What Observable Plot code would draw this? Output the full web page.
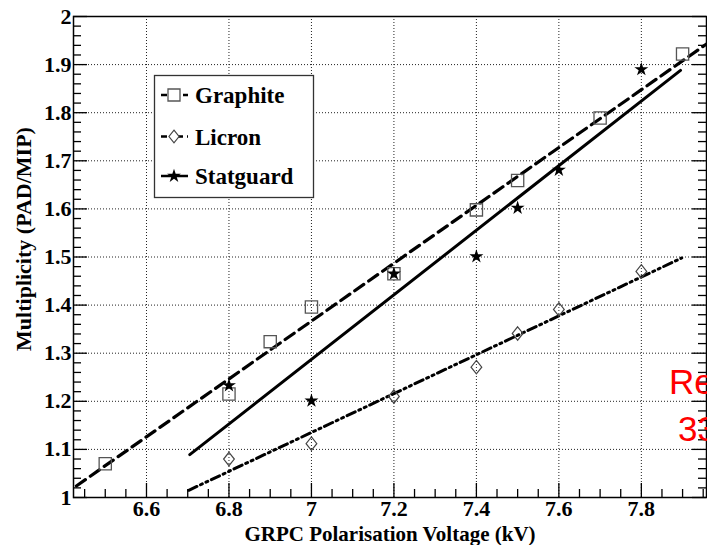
<!DOCTYPE html>
<html><head><meta charset="utf-8">
<script src="https://cdn.jsdelivr.net/npm/d3@7"></script>
<script src="https://cdn.jsdelivr.net/npm/@observablehq/plot@0.6"></script>
<style>
body{margin:0;background:#fff;overflow:hidden}
#wrap{position:relative;width:707px;height:545px;overflow:hidden;background:#fff}
#wrap svg{position:absolute;left:0;top:0}
.red{position:absolute;font-family:"Liberation Sans",Arial,sans-serif;font-size:35px;color:#ff0000;line-height:1;white-space:nowrap}
</style></head><body><div id="wrap"></div>
<script>
// ---- data ----
const graphiteX = [6.5, 6.8, 6.9, 7.0, 7.2, 7.4, 7.5, 7.7, 7.9];
const graphiteY = [1.070, 1.215, 1.324, 1.396, 1.465, 1.598, 1.659, 1.789, 1.922];
const licronX = [6.8, 7.0, 7.2, 7.4, 7.5, 7.6, 7.8];
const licronY = [1.080, 1.112, 1.210, 1.271, 1.341, 1.391, 1.470];
const statguardX = [6.8, 7.0, 7.2, 7.4, 7.5, 7.6, 7.8];
const statguardY = [1.233, 1.201, 1.465, 1.501, 1.602, 1.681, 1.890];
// linear fit lines (end points)
const graphiteFitX = [6.43, 7.96];
const graphiteFitY = [1.024, 1.944];
const statguardFitX = [6.705, 7.895];
const statguardFitY = [1.089, 1.888];
const licronFitX = [6.7025, 7.898];
const licronFitY = [1.015, 1.498];
// axes
const xDomain = [6.423, 7.958];
const yDomain = [1, 2];
const xTicks = [6.6, 6.8, 7.0, 7.2, 7.4, 7.6, 7.8];
const yTicks = [1.0, 1.1, 1.2, 1.3, 1.4, 1.5, 1.6, 1.7, 1.8, 1.9, 2.0];
const xMinorTicks = [6.45, 6.5, 6.55, 6.65, 6.7, 6.75, 6.85, 6.9, 6.95, 7.05, 7.1, 7.15, 7.25, 7.3, 7.35, 7.45, 7.5, 7.55, 7.65, 7.7, 7.75, 7.85, 7.9, 7.95];
const yMinorTicks = [1.02,1.04,1.06,1.08,1.12,1.14,1.16,1.18,1.22,1.24,1.26,1.28,1.32,1.34,1.36,1.38,1.42,1.44,1.46,1.48,1.52,1.54,1.56,1.58,1.62,1.64,1.66,1.68,1.72,1.74,1.76,1.78,1.82,1.84,1.86,1.88,1.92,1.94,1.96,1.98];
const seriesNames = ["Graphite", "Licron", "Statguard"];
const xTitle = "GRPC Polarisation Voltage (kV)";
const yTitle = "Multiplicity (PAD/MIP)";

const W = 707, H = 545, mL = 73, mR = 1, mT = 16, mB = 48;
const pxX = (W - mL - mR) / (xDomain[1] - xDomain[0]);
const pxY = (H - mT - mB) / (yDomain[1] - yDomain[0]);
const majLen = 14, minLen = 8;

const pts = (xs, ys) => xs.map((x, i) => ({x, y: ys[i]}));
const fmt = d => String(+(+d).toFixed(2));

const diamond = {draw(ctx, size) {
  const r = Math.sqrt(size / Math.PI), w = r * 0.8;
  ctx.moveTo(0, -r); ctx.lineTo(w, 0); ctx.lineTo(0, r); ctx.lineTo(-w, 0); ctx.closePath();
}};

const serif = "'Liberation Serif','DejaVu Serif',serif";
const gridStyle = {stroke: "#222", strokeWidth: 1, strokeDasharray: "1,2"};

const chart = Plot.plot({
  width: W, height: H,
  marginLeft: mL, marginRight: mR, marginTop: mT, marginBottom: mB,
  style: {fontFamily: serif, fontSize: "22px", fontWeight: "bold", color: "black", background: "white"},
  x: {domain: xDomain, ticks: xTicks, tickSize: 0, tickPadding: 3, tickFormat: fmt, label: null},
  y: {domain: yDomain, ticks: yTicks, tickSize: 0, tickPadding: 2, tickFormat: fmt, label: null},
  marks: [
    Plot.ruleX(xTicks, {x: d => d, ...gridStyle}),
    Plot.ruleY(yTicks.filter(v => v > 1 && v < 2), {y: d => d, ...gridStyle}),
    Plot.line(pts(graphiteFitX, graphiteFitY), {x: "x", y: "y", stroke: "black", strokeWidth: 3.2, strokeDasharray: "11,6", clip: true}),
    Plot.line(pts(statguardFitX, statguardFitY), {x: "x", y: "y", stroke: "black", strokeWidth: 3, clip: true}),
    Plot.line(pts(licronFitX, licronFitY), {x: "x", y: "y", stroke: "black", strokeWidth: 3, strokeDasharray: "9,4,2,4,2,4", clip: true}),
    Plot.dot(pts(graphiteX, graphiteY), {x: "x", y: "y", symbol: "square", r: 6.9, fill: "none", stroke: "#555", strokeWidth: 1.3}),
    Plot.dot(pts(licronX, licronY), {x: "x", y: "y", symbol: diamond, r: 6.7, fill: "none", stroke: "#444", strokeWidth: 1.2}),
    Plot.dot(pts(statguardX, statguardY), {x: "x", y: "y", symbol: "star", r: 4.4, fill: "black", stroke: "none"}),
    Plot.frame({stroke: "black", strokeWidth: 1.5}),
    // inward ticks, bottom
    Plot.ruleX(xTicks, {x: d => d, y1: yDomain[0], y2: yDomain[0] + majLen / pxY, stroke: "black", strokeWidth: 1.3}),
    Plot.ruleX(xMinorTicks, {x: d => d, y1: yDomain[0], y2: yDomain[0] + minLen / pxY, stroke: "black", strokeWidth: 1.3}),
    // inward ticks, left and right
    Plot.ruleY(yTicks, {y: d => d, x1: xDomain[0], x2: xDomain[0] + majLen / pxX, stroke: "black", strokeWidth: 1.3}),
    Plot.ruleY(yMinorTicks, {y: d => d, x1: xDomain[0], x2: xDomain[0] + minLen / pxX, stroke: "black", strokeWidth: 1.3}),
    Plot.ruleY(yTicks, {y: d => d, x1: xDomain[1] - majLen / pxX, x2: xDomain[1], stroke: "black", strokeWidth: 1.3}),
    Plot.ruleY(yMinorTicks, {y: d => d, x1: xDomain[1] - minLen / pxX, x2: xDomain[1], stroke: "black", strokeWidth: 1.3}),
    Plot.text([xTitle], {frameAnchor: "bottom", dy: 37, lineAnchor: "middle", textAnchor: "middle", fontSize: 21, fontWeight: "bold", fill: "black"}),
    Plot.text([yTitle], {frameAnchor: "left", rotate: -90, dx: -50, dy: -18, lineAnchor: "middle", textAnchor: "middle", fontSize: 22, fontWeight: "bold", fill: "black"})
  ]
});
const wrap = document.getElementById("wrap");
wrap.appendChild(chart);

// ---- legend overlay ----
const leg = d3.select(wrap).append("svg").attr("width", W).attr("height", H).style("pointer-events", "none");
leg.append("rect").attr("x", 154.5).attr("y", 75.5).attr("width", 159).attr("height", 122)
  .attr("fill", "white").attr("stroke", "#333").attr("stroke-width", 1.3);
const rowsY = [95, 136.5, 176];
const legendStyles = [
  {dash: "6,5", sym: d3.symbol(d3.symbolSquare, 144)(), fill: "white", stroke: "#555", sw: 1.3},
  {dash: "6,4,2,4", sym: d3.symbol(diamond, Math.PI * 6.3 * 6.3)(), fill: "white", stroke: "#444", sw: 1.2},
  {dash: null, sym: d3.symbol(d3.symbolStar, 60)(), fill: "black", stroke: "none", sw: 0}
];
seriesNames.forEach((name, i) => {
  const y = rowsY[i], s = legendStyles[i];
  const ln = leg.append("line").attr("x1", 161).attr("x2", 188).attr("y1", y).attr("y2", y)
    .attr("stroke", "black").attr("stroke-width", 2.5);
  if (s.dash) ln.attr("stroke-dasharray", s.dash);
  leg.append("path").attr("d", s.sym).attr("transform", `translate(174,${y})`)
    .attr("fill", s.fill).attr("stroke", s.stroke).attr("stroke-width", s.sw);
  leg.append("text").attr("x", 195).attr("y", y).attr("dy", "0.35em")
    .attr("font-family", serif).attr("font-weight", "bold").attr("font-size", 23)
    .attr("fill", "black").text(name);
});

// ---- overlapping red slide text (cropped at the right edge in the reference) ----
const r1 = document.createElement("div"); r1.className = "red"; r1.textContent = "Re";
r1.style.left = "669px"; r1.style.top = "364px"; wrap.appendChild(r1);
const r2 = document.createElement("div"); r2.className = "red"; r2.textContent = "33";
r2.style.left = "678px"; r2.style.top = "411px"; wrap.appendChild(r2);
</script></body></html>
